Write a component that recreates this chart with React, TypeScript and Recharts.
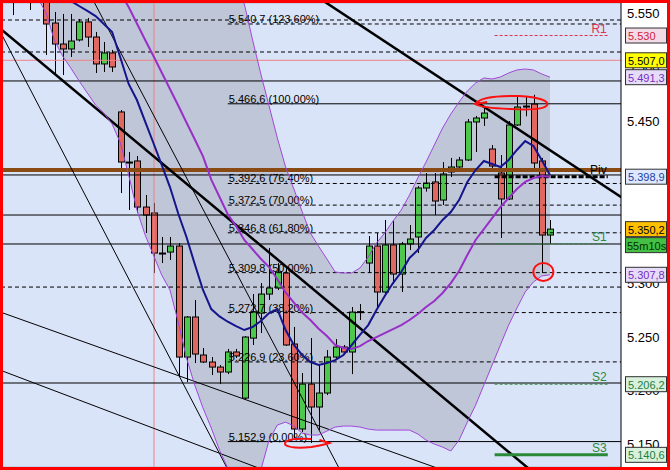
import React from "react";
import {
  ComposedChart,
  XAxis,
  YAxis,
  CartesianGrid,
  Area,
  Line,
  Bar,
  ReferenceLine,
  ReferenceDot,
} from "recharts";

// candles (index points)
const opens = [5575, 5580, 5572, 5575, 5566, 5541.6, 5522.1, 5517.5, 5525.9, 5542.6, 5528.6, 5503.6, 5513.8, 5459, 5412.5, 5413.5, 5370.7, 5365.2, 5328, 5328.9, 5334.5, 5231.4, 5268.6, 5233.3, 5226.8, 5222.1, 5217.5, 5236.1, 5193.3, 5249, 5272.2, 5289.9, 5295.5, 5309.5, 5243.5, 5164.6, 5206.3, 5185, 5198, 5231.4, 5240.7, 5236.1, 5273.2, 5318.7, 5334.5, 5291.8, 5335.5, 5308.5, 5336.4, 5342.9, 5388.4, 5394, 5377.2, 5403.3, 5407.9, 5414.4, 5449.7, 5453.4, 5424.6, 5402.3, 5378.2, 5446.9, 5463.6, 5466.4, 5413.5, 5344.7];
const highs = [5580, 5590, 5578, 5580, 5570, 5551.9, 5550, 5550, 5545.4, 5546.3, 5533.3, 5524, 5516.6, 5460.8, 5421.8, 5418.1, 5381.9, 5374.5, 5342.9, 5342.9, 5337.3, 5269.5, 5284.4, 5239.8, 5231.4, 5224, 5238.9, 5238.9, 5250.9, 5290, 5300.1, 5332.7, 5318.7, 5314.1, 5259.4, 5216.6, 5249.1, 5224, 5237.9, 5248.1, 5242.6, 5277.9, 5280.6, 5343.8, 5346.6, 5358.7, 5357.7, 5338.3, 5354, 5390.2, 5402.3, 5402.3, 5412.5, 5416.3, 5417.2, 5452.5, 5455.3, 5462.7, 5428.3, 5419, 5450.6, 5472.9, 5472.9, 5475, 5416.3, 5358.7];
const lows = [5549, 5572, 5553.7, 5562, 5511.9, 5493.3, 5493.3, 5510.1, 5524.5, 5519.4, 5495.2, 5496.1, 5496.1, 5383.7, 5368, 5365.2, 5346.6, 5309.5, 5318.7, 5321.5, 5212.8, 5208.2, 5225.8, 5225.8, 5214.7, 5206.3, 5215.6, 5230.5, 5191.5, 5242.6, 5253.7, 5284.4, 5293.7, 5241.7, 5156.2, 5161.8, 5151.6, 5163.6, 5196.1, 5228.6, 5233.3, 5215.6, 5265.8, 5309.5, 5276.9, 5289.9, 5299.2, 5291.8, 5330.8, 5328, 5385, 5363.3, 5372.6, 5398.6, 5407, 5413.5, 5421.8, 5446, 5407, 5342, 5377.2, 5446, 5455, 5405.1, 5309.5, 5336.4];
const closes = [5568, 5585, 5566, 5568, 5540.7, 5522.1, 5517.5, 5524.9, 5542.6, 5528.6, 5503.6, 5513.8, 5500.8, 5412.5, 5411.8, 5370.7, 5363.3, 5328, 5327.5, 5334.5, 5231.4, 5268.6, 5234.2, 5226.8, 5222.1, 5217.5, 5236.1, 5232.4, 5250, 5273.2, 5289.9, 5295.5, 5310.4, 5242.6, 5164.6, 5206.3, 5185, 5198, 5231.4, 5240.7, 5236.1, 5273.2, 5273.6, 5334.5, 5291.8, 5335.5, 5308.5, 5336.4, 5341, 5388.4, 5393, 5376.3, 5401.4, 5407.9, 5414.4, 5449.7, 5453.4, 5458, 5408.8, 5378.2, 5446.9, 5463.6, 5464.5, 5411.6, 5344.7, 5350.2];

// bollinger bands + ema
const bbUpper = [5640, 5638, 5636, 5634, 5632, 5630, 5628, 5626, 5624, 5622, 5620, 5619, 5618, 5618, 5619, 5620, 5621, 5622, 5622, 5621, 5620, 5620, 5615, 5608, 5600, 5590, 5580, 5569, 5559.3, 5525.9, 5494.3, 5464.6, 5434.8, 5407.9, 5387.5, 5366.5, 5346.6, 5334.2, 5322.5, 5310.4, 5309.5, 5309.5, 5314.1, 5324.3, 5337.3, 5346.6, 5357.7, 5368, 5381.9, 5397.7, 5412.5, 5428.3, 5444.1, 5457.1, 5468.3, 5478.5, 5485.9, 5490.6, 5489.6, 5491.5, 5495.2, 5498, 5498.9, 5498, 5494.3, 5491.3];
const bbMiddle = [5640, 5636, 5632, 5628, 5624, 5620, 5615, 5610, 5604, 5598, 5591, 5584, 5577, 5569.5, 5556.5, 5541.2, 5525.9, 5511, 5495.6, 5480.4, 5465, 5449.2, 5433.7, 5417.8, 5396.2, 5380, 5364, 5353.1, 5340.1, 5331.5, 5322.7, 5315, 5303.6, 5291.4, 5281.9, 5272.7, 5265.8, 5257.7, 5251, 5242.6, 5239.8, 5238.9, 5241.6, 5246.3, 5250, 5253.7, 5257.4, 5261.1, 5265.8, 5271.4, 5277.9, 5283.4, 5290.9, 5300.1, 5311.3, 5326.2, 5340.1, 5350.3, 5360.5, 5370.7, 5379.1, 5387.5, 5394, 5397.7, 5399.5, 5398.9];
const bbLower = [5600, 5585, 5575, 5565, 5551, 5525.9, 5511, 5499.8, 5487.8, 5476.6, 5465.5, 5458, 5447.8, 5430.2, 5400.5, 5368, 5344.7, 5326.2, 5307.6, 5293.7, 5264, 5230.5, 5205.4, 5184.1, 5165.5, 5145, 5128.3, 5112.5, 5105, 5110, 5126.5, 5154.3, 5168.3, 5171, 5167.3, 5160.8, 5159, 5159, 5162.7, 5166.4, 5167.3, 5167.3, 5166.4, 5164.5, 5163.6, 5163.6, 5163.6, 5163.6, 5163.6, 5160, 5154.3, 5150.6, 5147.8, 5144.2, 5154.3, 5171, 5186.8, 5205.4, 5224, 5242.6, 5261.1, 5276.9, 5291.8, 5301.1, 5306.7, 5307.8];
const ema = [5610, 5605, 5600, 5594, 5588, 5580, 5571, 5562.1, 5557.4, 5552.8, 5548.1, 5540.7, 5533.3, 5509.4, 5485, 5470.1, 5450.1, 5430.2, 5409.8, 5389.3, 5364.7, 5342.9, 5317.8, 5293.7, 5276, 5269.1, 5264.2, 5260.2, 5256.5, 5259.3, 5264.9, 5272.3, 5276, 5256.5, 5242.6, 5233.3, 5226.8, 5224, 5225.8, 5228.6, 5233.3, 5242.6, 5251.9, 5261.1, 5275.1, 5288.1, 5300.1, 5310.4, 5323.4, 5330.8, 5342, 5349.4, 5358.7, 5366.1, 5377.2, 5394, 5405.1, 5413.5, 5410.7, 5407.9, 5414.4, 5423.7, 5432, 5427.4, 5414.4, 5400.5];

const yTicks = [5150, 5200, 5250, 5300, 5350, 5400, 5450, 5500, 5550];

// fibonacci retracement 5.152,9 -> 5.466,6
const fibValues = [5540.7, 5466.6, 5392.6, 5372.5, 5346.8, 5309.8, 5272.7, 5226.9, 5152.9];
const fibPcts = ["123,60%", "100,00%", "76,40%", "70,00%", "61,80%", "50,00%", "38,20%", "23,60%", "0,00%"];

// plain horizontal levels
const solidLevels = [5487.8, 5400.5, 5363.3, 5336.4, 5207.3];
const dashedLevels = [5544.4, 5514.7, 5296.4];
const pivotLine = 5405.1;
const alertLine = 5507;

// floor pivots
const pivotNames = ["R1", "Piv", "S1", "S2", "S3"];
const pivotValues = [5530, 5398.9, 5336.6, 5206.2, 5140.6];

// trend lines [x1, y1, x2, y2] in (bar index, price)
const thickTrends = [
  [-1.5, 5536.1, 66, 5105],
  [34, 5580.2, 75, 5372.9],
];
const thinTrends = [
  [-1.5, 5532.9, 28, 5097.5],
  [8, 5587.7, 41, 5105.9],
  [-1.5, 5273.1, 55, 5118.3],
  [-1.5, 5219.1, 33, 5118.8],
];

// right-hand price boxes
const boxValues = [5530, 5507, 5491.3, 5398.9, 5350.2, 5307.8, 5206.2, 5140.6];
const countdown = "55m10s";

const data = opens.map((o, i) => ({
  i,
  o,
  h: highs[i],
  l: lows[i],
  c: closes[i],
  up: bbUpper[i],
  mid: bbMiddle[i],
  lo: bbLower[i],
  ema: ema[i],
}));

const fmtTick = (v: number) => {
  const s = String(Math.round(v));
  return `${s[0]}.${s.slice(1)}`;
};
const fmtPrice = (v: number) => {
  const s = v.toFixed(1);
  return `${s[0]}.${s.slice(1, 4)},${s.slice(5)}`;
};

const FONT = "'Liberation Sans', Arial, sans-serif";

const Candle = (props: any) => {
  const { x, y, width, height, payload } = props;
  if (!payload || height == null) return null;
  const { o, h, l, c } = payload;
  const cx = Math.round(x + width / 2) + 0.5;
  const k = h === l ? 0 : height / (h - l);
  const top = y + (h - Math.max(o, c)) * k;
  const bot = y + (h - Math.min(o, c)) * k;
  return (
    <g>
      <line x1={cx} x2={cx} y1={y} y2={y + height} stroke="#000" strokeWidth={1} />
      <rect
        x={cx - 3}
        y={top}
        width={6}
        height={Math.max(bot - top, 1)}
        fill={c >= o ? "#4cc84c" : "#e06860"}
        stroke="#000"
        strokeWidth={1}
      />
    </g>
  );
};

const boxStyle: Record<string, { bg: string; color: string; text?: string }> = {
  "5530": { bg: "#f2dbe6", color: "#d0203c", text: "5.530" },
  "5507": { bg: "#ffff00", color: "#000" },
  "5491.3": { bg: "#e4dcf8", color: "#7a2cc0" },
  "5398.9": { bg: "#dde8ff", color: "#2040a0" },
  "5350.2": { bg: "#ffc000", color: "#000" },
  "5307.8": { bg: "#e4dcf8", color: "#7a2cc0" },
  "5206.2": { bg: "#d8f0dc", color: "#208040" },
  "5140.6": { bg: "#d8f0dc", color: "#208040" },
};

const pivotColor = (name: string) =>
  name === "R1" ? "#e03050" : name === "Piv" ? "#000" : "#2a8a3a";

export default function App() {
  return (
    <div
      style={{
        position: "absolute",
        left: 0,
        top: 0,
        width: 670,
        height: 470,
        background: "#ff0000",
      }}
    >
      <div style={{ position: "absolute", left: 3, top: 3, width: 664, height: 464, background: "#fff" }}>
        <ComposedChart
          width={664}
          height={464}
          data={data}
          margin={{ top: 0, right: 0, bottom: 0, left: 0 }}
          style={{ fontFamily: FONT }}
        >
          <CartesianGrid vertical={false} stroke="#b4bccc" fill="#dae4f8" fillOpacity={1} />
          <XAxis type="number" dataKey="i" domain={[-1.21, 73.6]} hide allowDataOverflow />
          <YAxis
            orientation="right"
            domain={[5129.3, 5560.2]}
            allowDataOverflow
            ticks={yTicks}
            interval={0}
            width={46}
            tickSize={4}
            axisLine={{ stroke: "#000" }}
            tickLine={{ stroke: "#000" }}
            tick={false}
          />

          <Area
            dataKey={(d: any) => [d.lo, d.up]}
            stroke="none"
            fill="#808090"
            fillOpacity={0.3}
            isAnimationActive={false}
          />

          <ReferenceLine x={17.07} stroke="#f08088" strokeWidth={1} />
          <ReferenceLine y={alertLine} stroke="#f08088" strokeWidth={1} />
          {solidLevels.map((v) => (
            <ReferenceLine key={`s${v}`} y={v} stroke="#000" strokeWidth={1} />
          ))}
          {dashedLevels.map((v) => (
            <ReferenceLine key={`d${v}`} y={v} stroke="#000" strokeWidth={1} strokeDasharray="4 3" />
          ))}
          <ReferenceLine y={pivotLine} stroke="#8a4a14" strokeWidth={4} />

          {fibValues.map((v, k) => (
            <ReferenceLine
              key={`f${v}`}
              segment={[
                { x: 26, y: v },
                { x: 74, y: v },
              ]}
              ifOverflow="hidden"
              stroke="#000"
              strokeWidth={1}
              strokeDasharray={k === 1 || k === 8 ? undefined : "4 3"}
              label={{
                content: (p: any) => (
                  <text
                    x={p.viewBox.x + 1}
                    y={p.viewBox.y - 1}
                    fontSize={11}
                    fill="#000"
                    fontFamily={FONT}
                  >
                    {`${fmtPrice(v)} (${fibPcts[k]})`}
                  </text>
                ),
              }}
            />
          ))}

          {thinTrends.map((t, k) => (
            <ReferenceLine
              key={`tt${k}`}
              segment={[
                { x: t[0], y: t[1] },
                { x: t[2], y: t[3] },
              ]}
              ifOverflow="hidden"
              stroke="#000"
              strokeWidth={1}
            />
          ))}
          {thickTrends.map((t, k) => (
            <ReferenceLine
              key={`tk${k}`}
              segment={[
                { x: t[0], y: t[1] },
                { x: t[2], y: t[3] },
              ]}
              ifOverflow="hidden"
              stroke="#000"
              strokeWidth={2.5}
            />
          ))}

          {pivotNames.map((n, k) => (
            <ReferenceLine
              key={`p${n}`}
              segment={[
                { x: 58.3, y: pivotValues[k] },
                { x: 72, y: pivotValues[k] },
              ]}
              ifOverflow="hidden"
              stroke={pivotColor(n)}
              strokeWidth={n === "Piv" || n === "S3" ? 3 : 1}
              strokeDasharray={n === "S3" ? undefined : n === "Piv" ? "5 2" : "3 2"}
              label={{
                content: (p: any) => (
                  <text
                    x={p.viewBox.x + p.viewBox.width - 1}
                    y={p.viewBox.y - 3}
                    textAnchor="end"
                    fontSize={12}
                    fill={pivotColor(n)}
                    fontFamily={FONT}
                  >
                    {n}
                  </text>
                ),
              }}
            />
          ))}

          <Line dataKey="lo" stroke="#a048d8" strokeWidth={1} dot={false} isAnimationActive={false} />
          <Line dataKey="up" stroke="#a048d8" strokeWidth={1} dot={false} isAnimationActive={false} />
          <Line dataKey="mid" stroke="#9830c8" strokeWidth={2} dot={false} isAnimationActive={false} />
          <Line dataKey="ema" stroke="#14148c" strokeWidth={2} dot={false} isAnimationActive={false} />

          <Bar
            dataKey={(d: any) => [d.l, d.h]}
            barSize={7}
            shape={(p: any) => <Candle {...p} />}
            isAnimationActive={false}
          />

          {/* hand drawn marks */}
          <ReferenceDot
            x={60.3}
            y={5467.3}
            r={1}
            ifOverflow="visible"
            shape={(p: any) => (
              <path
                d={`M ${p.cx - 36} ${p.cy + 1} Q ${p.cx - 30} ${p.cy - 8} ${p.cx + 8} ${p.cy - 7} Q ${p.cx + 38} ${p.cy - 5} ${p.cx + 36} ${p.cy + 2} Q ${p.cx + 32} ${p.cy + 8} ${p.cx} ${p.cy + 6} Q ${p.cx - 30} ${p.cy + 5} ${p.cx - 36} ${p.cy + 1} L ${p.cx - 24} ${p.cy - 1}`}
                fill="none"
                stroke="#ff1010"
                strokeWidth={2}
              />
            )}
          />
          <ReferenceDot
            x={35.4}
            y={5151.6}
            r={1}
            ifOverflow="visible"
            shape={(p: any) => (
              <path
                d={`M ${p.cx + 6} ${p.cy - 4} Q ${p.cx - 24} ${p.cy - 5} ${p.cx - 20} ${p.cy + 2} Q ${p.cx - 14} ${p.cy + 6} ${p.cx + 6} ${p.cy + 4} Q ${p.cx + 18} ${p.cy + 2} ${p.cx + 24} ${p.cy}  L ${p.cx + 14} ${p.cy - 3}`}
                fill="none"
                stroke="#ff1010"
                strokeWidth={2}
              />
            )}
          />
          <ReferenceDot
            x={64.2}
            y={5310.4}
            r={1}
            ifOverflow="visible"
            shape={(p: any) => (
              <ellipse cx={p.cx} cy={p.cy} rx={10} ry={9} fill="none" stroke="#ff1010" strokeWidth={2} />
            )}
          />

          {/* axis tick labels, drawn here so the price boxes can sit on top */}
          {yTicks.map((v) => (
            <ReferenceLine
              key={`t${v}`}
              y={v}
              stroke="none"
              label={{
                content: (p: any) => (
                  <text
                    x={p.viewBox.x + p.viewBox.width + 6}
                    y={p.viewBox.y + 4.5}
                    fontSize={13}
                    fill="#000"
                    fontFamily={FONT}
                  >
                    {fmtTick(v)}
                  </text>
                ),
              }}
            />
          ))}

          {boxValues.map((v) => {
            const st = boxStyle[String(v)];
            return (
              <ReferenceLine
                key={`b${v}`}
                y={v}
                stroke="none"
                label={{
                  content: (p: any) => {
                    const bx = p.viewBox.x + p.viewBox.width + 4;
                    const by = p.viewBox.y;
                    return (
                      <g>
                        <rect x={bx + 0.5} y={by - 7.5} width={41} height={15} fill={st.bg} stroke="#303030" />
                        <text x={bx + 3} y={by + 4.5} fontSize={11} fill={st.color} fontFamily={FONT}>
                          {st.text ?? fmtPrice(v)}
                        </text>
                        {v === 5350.2 && (
                          <g>
                            <rect x={bx + 0.5} y={by + 8.5} width={41} height={15} fill="#44c044" stroke="#303030" />
                            <text x={bx + 2} y={by + 20.5} fontSize={11} fill="#003000" fontFamily={FONT}>
                              {countdown}
                            </text>
                          </g>
                        )}
                      </g>
                    );
                  },
                }}
              />
            );
          })}
        </ComposedChart>
      </div>
    </div>
  );
}
